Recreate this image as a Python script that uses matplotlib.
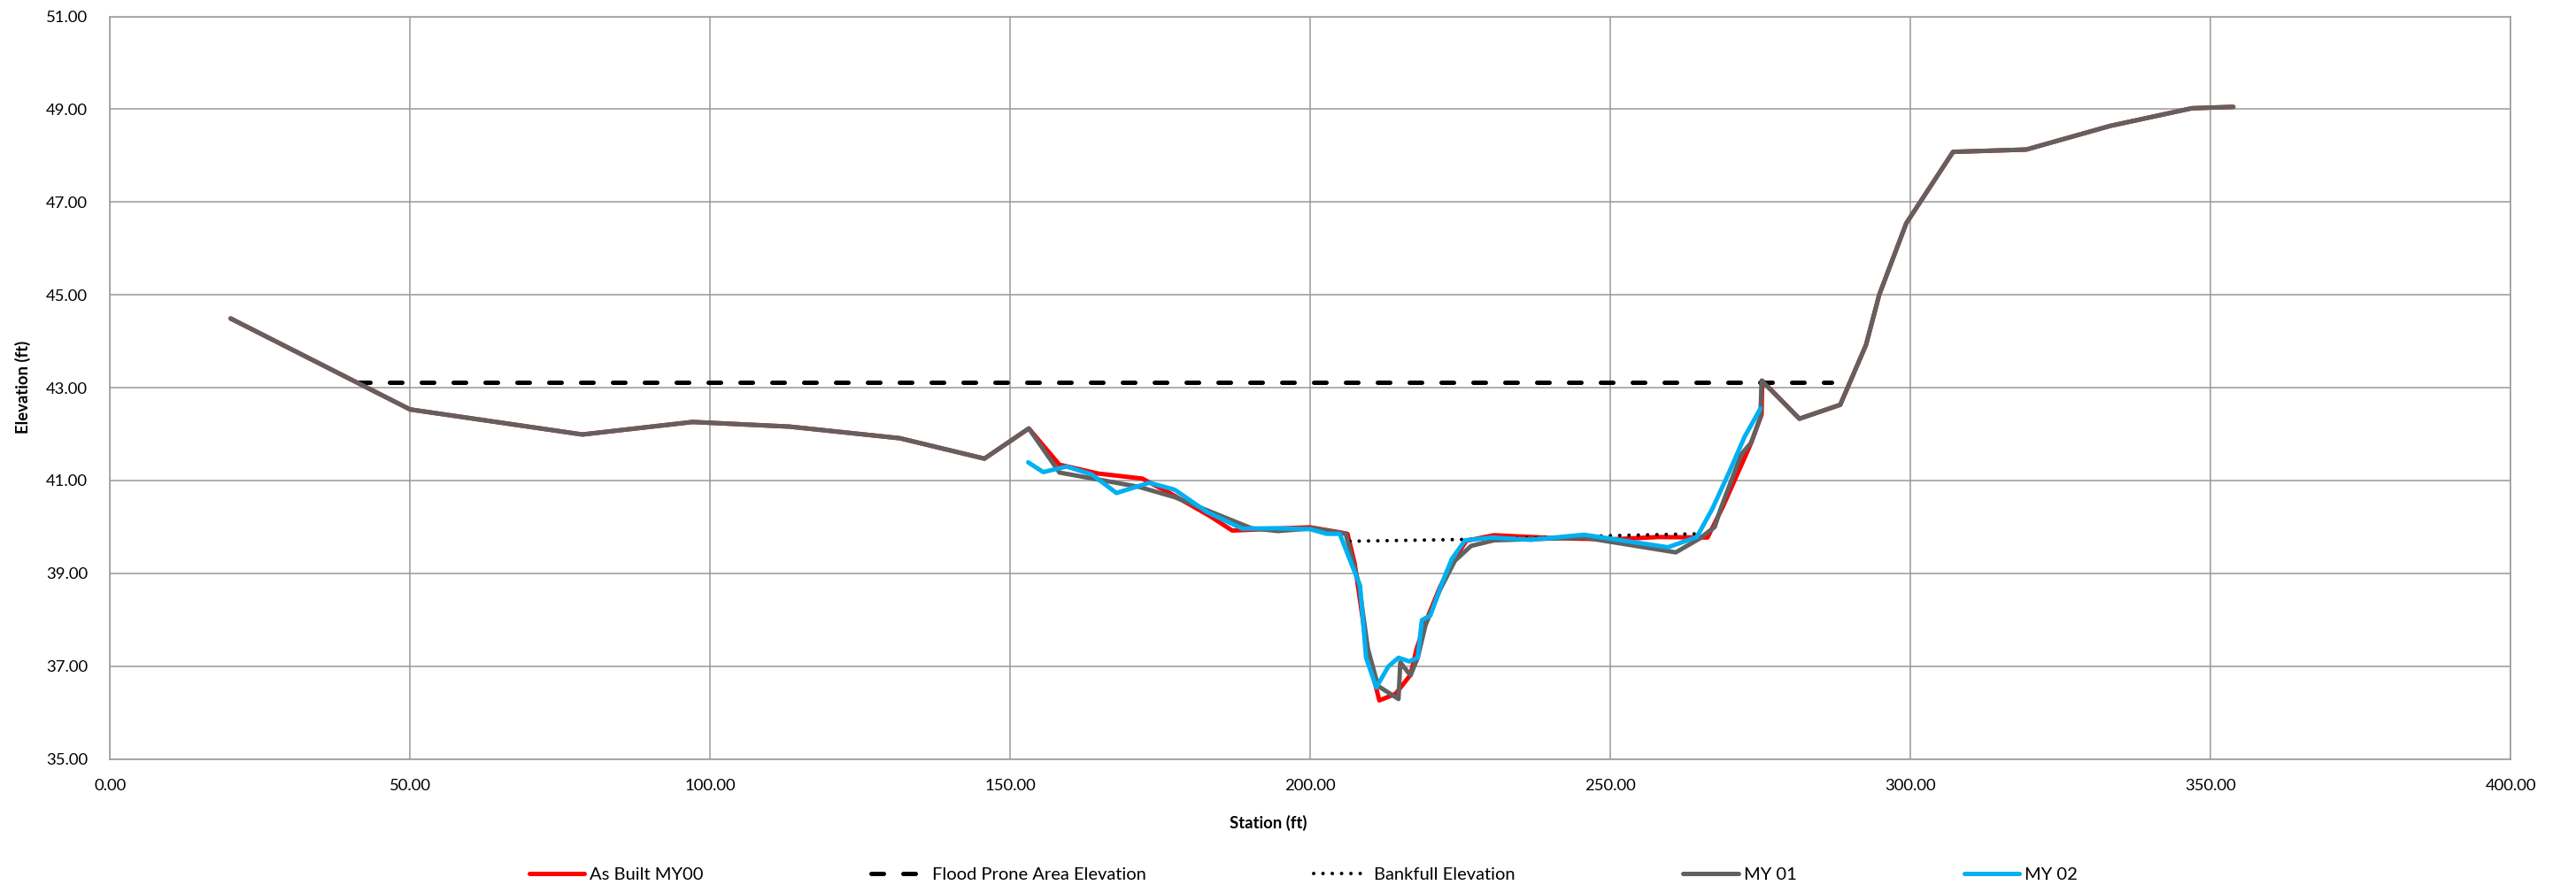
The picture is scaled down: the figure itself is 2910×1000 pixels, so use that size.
import matplotlib
matplotlib.use("Agg")
import matplotlib.pyplot as plt

plt.rcParams['font.family'] = ['Lato', 'DejaVu Sans']

# cross-section survey, station (ft) vs elevation (ft)
as_built_sta = [20.1, 50.0, 78.7, 97.1, 113.2, 131.6, 145.7, 153.1, 158.2, 164.6,
                172.0, 176.4, 183.3, 187.0, 194.0, 200.0, 205.0, 206.2, 207.4, 209.6,
                211.5, 214.2, 216.7, 217.7, 219.2, 221.6, 224.0, 226.0, 230.6, 240.0,
                250.0, 258.0, 266.2, 268.8, 273.3, 275.2, 275.3, 281.5, 288.3, 292.6,
                294.8, 299.3, 307.1, 319.3, 333.3, 346.9, 353.8]
as_built_elev = [44.49, 42.53, 41.99, 42.26, 42.16, 41.91, 41.47, 42.12, 41.34, 41.15,
                 41.04, 40.74, 40.23, 39.92, 39.96, 39.99, 39.88, 39.85, 39.21, 37.24,
                 36.26, 36.40, 36.81, 37.37, 37.94, 38.70, 39.30, 39.70, 39.82, 39.76,
                 39.73, 39.78, 39.77, 40.45, 41.76, 42.42, 43.15, 42.33, 42.63, 43.92,
                 45.00, 46.54, 48.08, 48.13, 48.64, 49.02, 49.05]

flood_sta = [41.3, 286.9]
flood_elev = [43.12, 43.12]

bankfull_sta = [206.6, 226.1, 250.0, 264.1]
bankfull_elev = [39.69, 39.73, 39.81, 39.85]

my01_sta = [20.1, 50.0, 78.7, 97.1, 113.2, 131.6, 145.7, 153.1, 158.2, 171.5,
            177.4, 190.2, 194.6, 200.5, 205.9, 208.1, 209.6, 211.3, 214.7, 215.0,
            216.7, 217.9, 219.2, 221.6, 224.1, 226.8, 230.6, 245.6, 260.9, 264.9,
            267.4, 268.3, 271.8, 273.5, 275.0, 275.2, 281.5, 288.3, 292.6, 294.8,
            299.3, 307.1, 319.3, 333.3, 346.9, 353.8]
my01_elev = [44.49, 42.53, 41.99, 42.26, 42.16, 41.91, 41.47, 42.12, 41.17, 40.86,
             40.64, 39.97, 39.91, 39.97, 39.85, 38.77, 37.37, 36.57, 36.29, 37.08,
             36.80, 37.18, 37.88, 38.64, 39.27, 39.59, 39.71, 39.77, 39.45, 39.75,
             40.00, 40.36, 41.56, 41.82, 42.36, 43.15, 42.33, 42.63, 43.92, 45.00,
             46.54, 48.08, 48.13, 48.64, 49.02, 49.05]

my02_sta = [153.0, 155.5, 159.4, 163.6, 167.7, 173.2, 177.4, 182.8, 188.7, 194.1,
            200.0, 202.7, 204.9, 208.3, 209.3, 211.0, 213.0, 214.7, 216.5, 217.9,
            218.6, 220.0, 221.9, 223.6, 225.8, 230.3, 236.7, 245.6, 259.6, 264.4,
            267.0, 269.8, 272.4, 273.5, 275.0]
my02_elev = [41.39, 41.18, 41.30, 41.13, 40.73, 40.95, 40.80, 40.32, 39.96, 39.97,
             39.95, 39.85, 39.85, 38.73, 37.18, 36.54, 36.99, 37.18, 37.10, 37.18,
             37.99, 38.09, 38.77, 39.31, 39.71, 39.77, 39.72, 39.83, 39.56, 39.78,
             40.39, 41.18, 41.95, 42.20, 42.55]

x_ticks = [0, 50, 100, 150, 200, 250, 300, 350, 400]
y_ticks = [35, 37, 39, 41, 43, 45, 47, 49, 51]

fig = plt.figure(figsize=(29.1, 10), dpi=100)
ax = fig.add_axes([0.0427, 0.1425, 0.9319, 0.839])

lw = 3.6
ax.plot(as_built_sta, as_built_elev, color='#FF0000', lw=lw, label='As Built MY00',
        solid_joinstyle='round', solid_capstyle='round')
ax.plot(flood_sta, flood_elev, color='black', lw=lw, dashes=(2.8, 4.4),
        dash_capstyle='round', label='Flood Prone Area Elevation')
ax.plot(bankfull_sta, bankfull_elev, color='black', lw=2.9, dashes=(0.01, 2.6),
        dash_capstyle='round', label='Bankfull Elevation')
ax.plot(my01_sta, my01_elev, color='#636060', lw=lw, label='MY 01',
        solid_joinstyle='round', solid_capstyle='round')
ax.plot(my02_sta, my02_elev, color='#00B0F0', lw=lw, label='MY 02',
        solid_joinstyle='round', solid_capstyle='round')

ax.set_xlim(0, 400)
ax.set_ylim(35, 51)
ax.set_xticks(x_ticks)
ax.set_yticks(y_ticks)
ax.set_xticklabels([f"{v:.2f}" for v in x_ticks])
ax.set_yticklabels([f"{v:.2f}" for v in y_ticks])
ax.tick_params(length=0, labelsize=13.3)
ax.tick_params(axis='x', pad=16)
ax.tick_params(axis='y', pad=18)

ax.grid(True, color='#999999', lw=1.1)
ax.set_axisbelow(True)
for sp in ax.spines.values():
    sp.set_color('#999999')
    sp.set_linewidth(1.1)

ax.set_xlabel('Station (ft)', fontsize=13.3, fontweight='bold')
ax.set_ylabel('Elevation (ft)', fontsize=13.3, fontweight='bold')
ax.xaxis.set_label_coords(0.4826, -0.075)
ax.yaxis.set_label_coords(-0.033, 0.501)

fig.legend(loc='center', bbox_to_anchor=(0.506, 0.012), ncol=5, frameon=False,
           fontsize=14.5, handlelength=3.1, handletextpad=0.3, columnspacing=9.4)

fig.savefig('out.png', dpi=100)
